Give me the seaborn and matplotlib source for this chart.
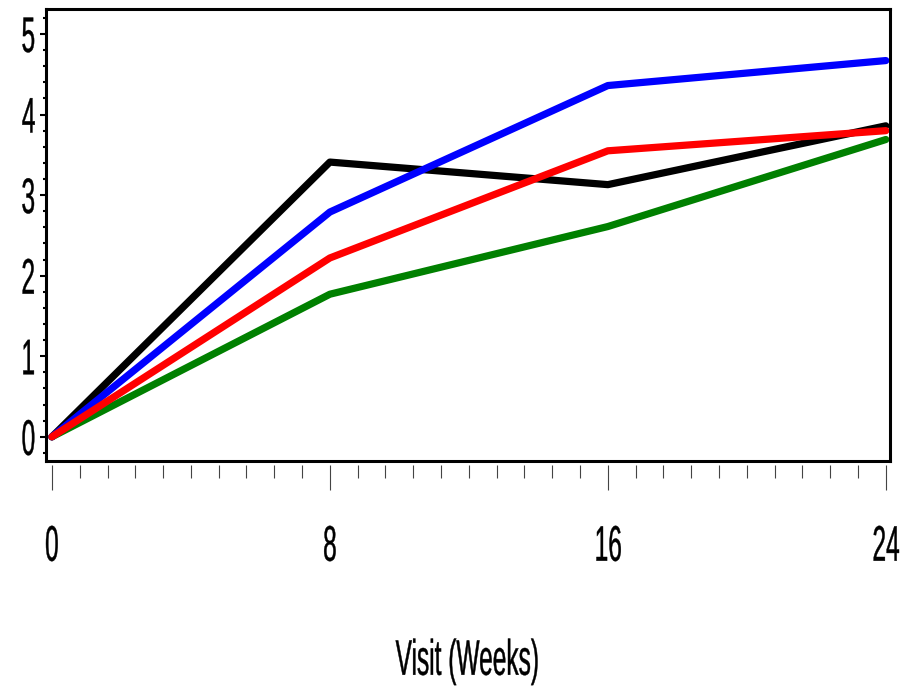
import matplotlib
matplotlib.use("Agg")
import matplotlib.pyplot as plt
import seaborn as sns
import pandas as pd
from matplotlib.ticker import MultipleLocator
from matplotlib.patheffects import AbstractPathEffect
from matplotlib.transforms import Affine2D

weeks = [0, 8, 16, 24]
series_names = ["Group 1", "Group 2", "Group 3", "Group 4"]
group1 = [0.0, 3.41, 3.13, 3.86]   # black
group2 = [0.0, 2.79, 4.36, 4.67]   # blue
group3 = [0.0, 2.22, 3.55, 3.80]   # red
group4 = [0.0, 1.77, 2.61, 3.69]   # green
colors = {"Group 1": "#000000", "Group 2": "#0000FF", "Group 3": "#FF0000", "Group 4": "#008000"}
xticks = [0, 8, 16, 24]
yticks = [0, 1, 2, 3, 4, 5]
xlabel = "Visit (Weeks)"

rows = []
for name, vals in zip(series_names, [group1, group2, group3, group4]):
    for w, v in zip(weeks, vals):
        rows.append({"week": w, "value": v, "group": name})
df = pd.DataFrame(rows)


class Condense(AbstractPathEffect):
    """Horizontally condense text glyphs (narrow font look), slightly emboldened."""
    def __init__(self, sx=0.5, anchor=0.5, stroke=0.3):
        super().__init__()
        self.sx = sx
        self.anchor = anchor
        self.stroke = stroke

    def draw_path(self, renderer, gc, tpath, affine, rgbFace=None):
        ext = tpath.get_extents()
        ax0 = ext.x0 + self.anchor * (ext.x1 - ext.x0)
        t = Affine2D().translate(-ax0, 0).scale(self.sx, 1).translate(ax0, 0) + affine
        gc0 = renderer.new_gc()
        gc0.copy_properties(gc)
        if rgbFace is not None:
            gc0.set_foreground(rgbFace)
        gc0.set_linewidth(self.stroke)
        renderer.draw_path(gc0, tpath, t, rgbFace)
        gc0.restore()


sns.set_style("white")
plt.rcParams["font.family"] = ["Liberation Sans", "DejaVu Sans"]
plt.rcParams["text.color"] = "black"
plt.rcParams["xtick.color"] = "black"
plt.rcParams["ytick.color"] = "black"
plt.rcParams["xtick.labelcolor"] = "black"
plt.rcParams["ytick.labelcolor"] = "black"

SX = 0.49
FS = 36

fig = plt.figure(figsize=(9.12, 6.91), dpi=100)
ax = fig.add_axes([46/912, 1-461/691, (890-46)/912, (461-9)/691])

sns.lineplot(data=df, x="week", y="value", hue="group",
             hue_order=["Group 1", "Group 4", "Group 2", "Group 3"],
             palette=colors, linewidth=5.2, legend=False, ax=ax,
             solid_capstyle="round", solid_joinstyle="round")

ax.set_xlim(-0.17, 24.12)
ax.set_ylim(-0.30, 5.31)

for s in ax.spines.values():
    s.set_visible(True)
    s.set_color("black")
    s.set_linewidth(2.2)

ax.set_yticks(yticks)
ylabs = ax.set_yticklabels([str(t) for t in yticks])
for l in ylabs:
    l.set_path_effects([Condense(SX, 1.0)])
ax.yaxis.set_minor_locator(MultipleLocator(0.2))
ax.tick_params(axis="y", which="major", direction="out", length=4, width=1.5,
               labelsize=FS, pad=3, left=True, colors="black")
ax.tick_params(axis="y", which="minor", direction="out", length=2, width=1.5,
               left=True, colors="black")

ax.set_xticks([])
ax.set_xlabel("")
ax.set_ylabel("")

sec = ax.secondary_xaxis(-4/452)
sec.spines["bottom"].set_visible(False)
sec.set_xticks(xticks)
xlabs = sec.set_xticklabels([str(t) for t in xticks])
for l in xlabs:
    l.set_path_effects([Condense(SX, 0.5)])
sec.xaxis.set_minor_locator(MultipleLocator(0.8))
sec.tick_params(axis="x", which="major", direction="out", length=18, width=0.8,
                color="#444444", labelsize=FS, pad=25, labelcolor="black")
sec.tick_params(axis="x", which="minor", direction="out", length=9, width=0.8,
                color="#444444")
xl = sec.set_xlabel(xlabel, fontsize=FS, labelpad=49, color="black")
xl.set_path_effects([Condense(SX, 0.5)])

fig.savefig("out.png", dpi=100)
